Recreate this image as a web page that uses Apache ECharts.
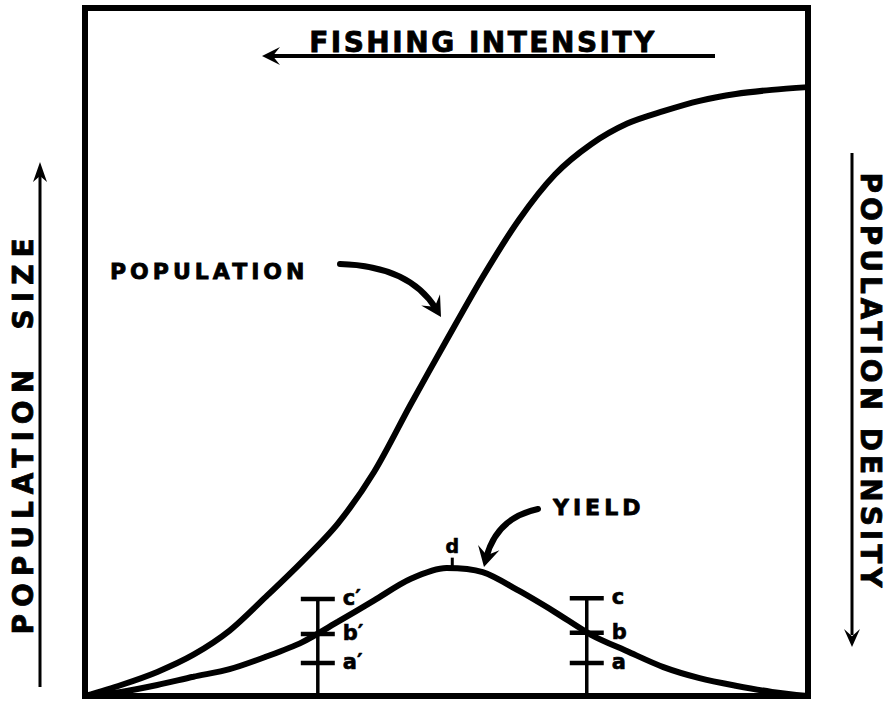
<!DOCTYPE html>
<html><head><meta charset="utf-8">
<script src="https://cdn.jsdelivr.net/npm/echarts@6/dist/echarts.min.js"></script>
<style>html,body{margin:0;padding:0;background:#fff}#chart{width:887px;height:703px}</style>
</head><body><div id="chart"></div>
<script>
// ---- data (x: 0..100 along the frame, y: 0..100 up the frame) ----
const xSteps = [0, 5, 10, 15, 20, 25, 30, 35, 40, 45, 50, 55, 60, 65, 70, 75, 80, 85, 90, 95, 100];
const population = [0, 1.6, 3.5, 6.0, 9.5, 14.4, 19.5, 25.1, 32.6, 42.3, 51.7, 60.9, 69.2, 75.8, 80.2, 83.2, 85.0, 86.5, 87.5, 88.1, 88.5];
const yieldValues = [0, 0.6, 1.6, 2.8, 3.9, 5.7, 7.8, 10.8, 13.9, 17.0, 18.6, 18.0, 15.3, 12.2, 8.9, 6.5, 4.2, 2.6, 1.5, 0.6, 0];
const barX = [32.2, 69.4];
const barA = [4.8, 4.8];
const barB = [9.0, 9.2];
const barC = [14.1, 14.2];
const barLabels = [['a′', 'b′', 'c′'], ['a', 'b', 'c']];
const peakX = [50.8];
const peakY = [18.8];
const peakLabels = ['d'];
const topTitle = 'FISHING INTENSITY';
const leftTitle = 'POPULATION  SIZE';
const rightTitle = 'POPULATION DENSITY';
const popLabel = 'POPULATION';
const yieldLabel = 'YIELD';

const FONT = '"DejaVu Sans", "Liberation Sans", sans-serif';
const spacing = {};
spacing[topTitle] = 2.5; spacing[leftTitle] = 7; spacing[rightTitle] = 4;
spacing[popLabel] = 4; spacing[yieldLabel] = 4;

function head(tx, ty, ang, len, half, notch) {
  const c = Math.cos(ang), s = Math.sin(ang);
  const bx = tx - c * len, by = ty - s * len;
  const nx = -s, ny = c;
  const mx = tx - c * len * notch, my = ty - s * len * notch;
  return { type: 'polygon', shape: { points: [[tx, ty], [bx + nx * half, by + ny * half], [mx, my], [bx - nx * half, by - ny * half]] }, style: { fill: '#000' } };
}
function curvedArrow(x1, y1, cx, cy, tx, ty, w) {
  const ang = Math.atan2(ty - cy, tx - cx);
  const ex = tx - Math.cos(ang) * 9, ey = ty - Math.sin(ang) * 9;
  return [
    { type: 'bezierCurve', shape: { x1: x1, y1: y1, cpx1: cx, cpy1: cy, x2: ex, y2: ey }, style: { stroke: '#000', lineWidth: w, fill: null, lineCap: 'round' } },
    head(tx, ty, ang, 20, 11, 0.6)
  ];
}
function label(text, x, y, size, align, rot, sw) {
  return { type: 'text', x: x, y: y, rotation: rot || 0,
    style: { text: text, font: 'bold ' + size + 'px ' + FONT, fill: '#000', stroke: '#000', lineWidth: sw || 0.8,
      align: align, textAlign: align, verticalAlign: 'middle', textVerticalAlign: 'middle' } };
}

const graphics = [].concat(
  [label(topTitle, 483, 42, 28, 'center'),
   { type: 'line', shape: { x1: 715, y1: 56, x2: 272, y2: 56 }, style: { stroke: '#000', lineWidth: 4 } },
   head(262, 56, Math.PI, 18, 9, 0.6),
   label(leftTitle, 23, 433, 28, 'center', Math.PI / 2),
   { type: 'line', shape: { x1: 40, y1: 687, x2: 40, y2: 175 }, style: { stroke: '#000', lineWidth: 3 } },
   head(40, 162, -Math.PI / 2, 20, 7, 0.7),
   label(rightTitle, 870, 382, 28, 'center', -Math.PI / 2),
   { type: 'line', shape: { x1: 852, y1: 153, x2: 852, y2: 635 }, style: { stroke: '#000', lineWidth: 3 } },
   head(852, 647, Math.PI / 2, 18, 8, 0.6),
   label(popLabel, 110, 271, 22, 'left'),
   label(yieldLabel, 553, 507, 22, 'left')],
  curvedArrow(340, 264, 410, 266, 441, 317, 6),
  curvedArrow(538, 509, 496, 518, 484, 567, 6)
);

const chart = echarts.init(document.getElementById('chart'), null, { renderer: 'svg' });
chart.setOption({
  animation: false,
  backgroundColor: '#fff',
  grid: { left: 85, right: 79, top: 8, bottom: 7, show: true, borderColor: '#000', borderWidth: 6, backgroundColor: 'transparent' },
  xAxis: { type: 'value', min: 0, max: 100, show: false },
  yAxis: { type: 'value', min: 0, max: 100, show: false },
  graphic: { elements: graphics },
  series: [
    { name: 'Population', type: 'line', smooth: 0.3, symbol: 'none', data: xSteps.map((x, i) => [x, population[i]]),
      lineStyle: { color: '#000', width: 6 } },
    { name: 'Yield', type: 'line', smooth: 0.3, symbol: 'none', data: xSteps.map((x, i) => [x, yieldValues[i]]),
      lineStyle: { color: '#000', width: 6 } },
    { name: 'Bars', type: 'custom', data: barX.map((x, i) => [x, barA[i], barB[i], barC[i]]),
      renderItem: function (params, api) {
        const x = api.value(0);
        const p0 = api.coord([x, 0]);
        const lv = [api.value(1), api.value(2), api.value(3)].map(v => api.coord([x, v]));
        const labs = barLabels[params.dataIndex];
        const ch = [{ type: 'line', shape: { x1: p0[0], y1: p0[1], x2: lv[2][0], y2: lv[2][1] }, style: { stroke: '#000', lineWidth: 3.5 } }];
        lv.forEach((p, k) => {
          ch.push({ type: 'line', shape: { x1: p[0] - 17, y1: p[1], x2: p[0] + 17, y2: p[1] }, style: { stroke: '#000', lineWidth: 4.5 } });
          ch.push({ type: 'text', x: p[0] + 25, y: p[1] - 1, style: { text: labs[k], font: 'bold 21px ' + FONT, fill: '#000', stroke: '#000', lineWidth: 0.6, align: 'left', textAlign: 'left', verticalAlign: 'middle', textVerticalAlign: 'middle' } });
        });
        return { type: 'group', children: ch };
      } },
    { name: 'Peak', type: 'custom', data: peakX.map((x, i) => [x, peakY[i]]),
      renderItem: function (params, api) {
        const p = api.coord([api.value(0), api.value(1)]);
        return { type: 'group', children: [
          { type: 'line', shape: { x1: p[0], y1: p[1], x2: p[0], y2: p[1] - 9 }, style: { stroke: '#000', lineWidth: 3 } },
          { type: 'text', x: p[0], y: p[1] - 21, style: { text: peakLabels[params.dataIndex], font: 'bold 19px ' + FONT, fill: '#000', stroke: '#000', lineWidth: 0.6, align: 'center', textAlign: 'center', verticalAlign: 'middle', textVerticalAlign: 'middle' } }
        ] };
      } }
  ]
});
function applySpacing() {
  document.querySelectorAll('#chart svg text').forEach(t => {
    const k = t.textContent;
    if (spacing[k] != null) t.setAttribute('letter-spacing', spacing[k]);
  });
}
chart.on('finished', applySpacing);
applySpacing();
requestAnimationFrame(applySpacing);
</script></body></html>
